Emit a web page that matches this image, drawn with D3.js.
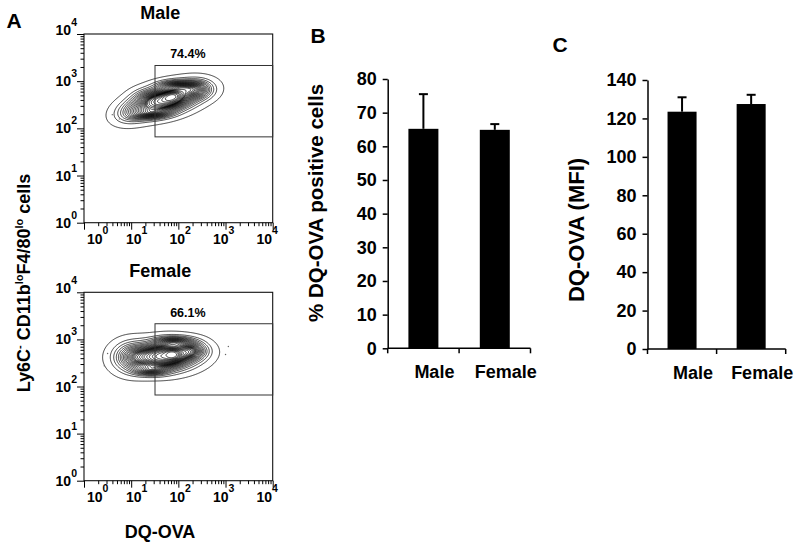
<!DOCTYPE html>
<html><head><meta charset="utf-8">
<script src="https://cdn.jsdelivr.net/npm/d3@7"></script>
<style>
body{margin:0;background:#fff}
svg{display:block;font-family:"Liberation Sans",Arial,sans-serif;font-weight:bold}
</style>
</head><body>
<svg id="c" width="799" height="544"></svg>
<script>
// ---------- DATA ----------
const flowTitles = ["Male", "Female"];
const gatePercents = ["74.4%", "66.1%"];
const decadeTicks = [1, 10, 100, 1000, 10000];
const decadeExponents = ["0", "1", "2", "3", "4"];
const gateXRange = [32, 10000];
const gateYRange = [66, 2150];
// density components: [log10 x, log10 y, sdx, sdy, rho, weight]
const maleComponents = [
  [1.75, 2.60, 0.42, 0.20, 0.45, 1.00],
  [2.40, 2.82, 0.20, 0.12, 0.00, 0.35],
  [1.95, 2.90, 0.25, 0.07, 0.00, 0.30],
  [1.45, 2.30, 0.25, 0.07, 0.20, 0.30],
  [1.85, 2.66, 0.10, 0.06, 0.30, 0.35],
  [1.05, 2.36, 0.25, 0.16, 0.30, 0.25],
  [1.30, 2.66, 0.20, 0.12, 0.00, 0.12]
];
const femaleComponents = [
  [1.70, 2.64, 0.41, 0.19, 0.10, 1.00],
  [2.30, 2.76, 0.20, 0.12, 0.00, 0.35],
  [1.90, 2.95, 0.25, 0.07, 0.00, 0.30],
  [1.40, 2.33, 0.22, 0.07, 0.00, 0.30],
  [1.87, 2.67, 0.09, 0.06, 0.00, 0.35],
  [1.00, 2.62, 0.25, 0.20, 0.00, 0.35]
];
const maleOutliers = [[0.60, 2.29], [0.75, 2.20]];
const femaleOutliers = [[0.43, 2.44], [3.06, 2.85], [3.00, 2.68], [0.50, 2.70]];
const barCategories = ["Male", "Female"];
const pctValues = [65.2, 64.9];
const pctErrors = [10.3, 1.7];
const pctTicks = [0, 10, 20, 30, 40, 50, 60, 70, 80];
const mfiValues = [123.5, 127.5];
const mfiErrors = [7.5, 4.8];
const mfiTicks = [0, 20, 40, 60, 80, 100, 120, 140];

// ---------- DRAW ----------
const svg = d3.select("#c");

function density(comps, lx, ly) {
  let s = 0;
  for (const [mx, my, sx, sy, r, w] of comps) {
    const dx = (lx - mx) / sx, dy = (ly - my) / sy;
    const q = (dx * dx - 2 * r * dx * dy + dy * dy) / (1 - r * r);
    s += w * Math.exp(-0.5 * q);
  }
  return s;
}

function drawFlow(comps, outliers, top, bottom, title, pct) {
  const g = svg.append("g");
  const left = 84, right = 272.7;
  const x = d3.scaleLog().domain([1, 1e4]).range([left, right]);
  const y = d3.scaleLog().domain([1, 1e4]).range([bottom, top]);

  const n = 260;
  const vals = new Float64Array(n * n);
  for (let j = 0; j < n; j++) for (let i = 0; i < n; i++)
    vals[i + j * n] = density(comps, i / n * 4, j / n * 4);
  const sorted = Array.from(vals).sort((a, b) => b - a);
  const total = d3.sum(sorted);
  const fracs = d3.range(0.035, 0.97, 0.035).concat([0.985]);
  const levels = [];
  let cum = 0, k = 0;
  for (let idx = 0; idx < sorted.length && k < fracs.length; idx++) {
    cum += sorted[idx];
    while (k < fracs.length && cum >= fracs[k] * total) { levels.push(sorted[idx]); k++; }
  }
  const contours = d3.contours().size([n, n]).thresholds(levels.sort((a, b) => a - b))(vals);
  const proj = d3.geoTransform({
    point(px, py) { this.stream.point(x(Math.pow(10, px / n * 4)), y(Math.pow(10, py / n * 4))); }
  });
  g.append("g").selectAll("path").data(contours).join("path")
    .attr("d", d3.geoPath(proj)).attr("fill", "none")
    .attr("stroke", "#000").attr("stroke-width", 0.75);
  g.append("g").selectAll("circle").data(outliers).join("circle")
    .attr("cx", d => x(Math.pow(10, d[0]))).attr("cy", d => y(Math.pow(10, d[1])))
    .attr("r", 0.7).attr("fill", "#666");

  g.append("rect").attr("x", left).attr("y", top).attr("width", right - left).attr("height", bottom - top)
    .attr("fill", "none").attr("stroke", "#111").attr("stroke-width", 1.1);

  g.append("rect").attr("x", x(gateXRange[0])).attr("y", y(gateYRange[1]))
    .attr("width", x(gateXRange[1]) - x(gateXRange[0])).attr("height", y(gateYRange[0]) - y(gateYRange[1]))
    .attr("fill", "none").attr("stroke", "#333").attr("stroke-width", 1);
  g.append("text").attr("x", (x(gateXRange[0]) + x(gateXRange[1])) / 2 - 26).attr("y", y(gateYRange[1]) - 7)
    .attr("text-anchor", "middle").attr("font-size", 12.5).text(pct);

  const allTicks = [];
  for (let e = 0; e < 4; e++) for (let m = 1; m < 10; m++) allTicks.push(m * Math.pow(10, e));
  allTicks.push(1e4);
  const isMajor = v => Math.abs(Math.log10(v) - Math.round(Math.log10(v))) < 1e-9;
  const ya = g.append("g").attr("transform", `translate(${left},0)`)
    .call(d3.axisLeft(y).tickValues(allTicks).tickFormat("").tickSizeOuter(0));
  ya.select(".domain").remove();
  ya.selectAll(".tick line").attr("x2", d => isMajor(d) ? -7 : -3.5).attr("stroke-width", 1);
  const xa = g.append("g").attr("transform", `translate(0,${bottom})`)
    .call(d3.axisBottom(x).tickValues(allTicks).tickFormat("").tickSizeOuter(0));
  xa.select(".domain").remove();
  xa.selectAll(".tick line").attr("y2", d => isMajor(d) ? 7 : 3.5).attr("stroke-width", 1);

  decadeTicks.forEach((v, i) => {
    const by = i === 4 ? top + 1 : y(v) + 5;
    const ty = g.append("text").attr("x", left - 7).attr("y", by).attr("text-anchor", "end").attr("font-size", 14);
    ty.append("tspan").text("10");
    ty.append("tspan").attr("dy", -9).attr("font-size", 10.5).text(decadeExponents[i]);
    const sx = Math.max(x(v) - 1.5 - 3.7 * i, left + 3);
    const tx = g.append("text").attr("x", sx).attr("y", bottom + 21).attr("font-size", 14);
    tx.append("tspan").text("10");
    tx.append("tspan").attr("dy", -10).attr("font-size", 10.5).text(decadeExponents[i]);
  });
  g.append("text").attr("x", (left + right) / 2 - 18).attr("y", top - 15)
    .attr("text-anchor", "middle").attr("font-size", 18).text(title);
}

drawFlow(maleComponents, maleOutliers, 34, 222.7, flowTitles[0], gatePercents[0]);
drawFlow(femaleComponents, femaleOutliers, 292.3, 480.7, flowTitles[1], gatePercents[1]);

const yl = svg.append("text").attr("transform", "translate(30,283) rotate(-90)")
  .attr("text-anchor", "middle").attr("font-size", 18);
yl.append("tspan").text("Ly6C");
yl.append("tspan").attr("dy", -7).attr("font-size", 11).text("-");
yl.append("tspan").attr("dy", 7).text(" CD11b");
yl.append("tspan").attr("dy", -7).attr("font-size", 11).text("lo");
yl.append("tspan").attr("dy", 7).text("F4/80");
yl.append("tspan").attr("dy", -7).attr("font-size", 11).text("lo");
yl.append("tspan").attr("dy", 7).text(" cells");
svg.append("text").attr("x", 160).attr("y", 538).attr("text-anchor", "middle").attr("font-size", 18).text("DQ-OVA");
svg.append("text").attr("x", 14).attr("y", 28).attr("text-anchor", "middle").attr("font-size", 21).text("A");

function drawBars(values, errors, ticks, yMax, x0, x1, yTop, yBottom, ylabel, ylabelX, ylabelCenter, ylabelSize, letter, letterPos) {
  const g = svg.append("g");
  const x = d3.scaleBand().domain(barCategories).range([x0, x1]).padding(0);
  const y = d3.scaleLinear().domain([0, yMax]).range([yBottom, yTop]);
  const bw = x.bandwidth() * 0.42;
  barCategories.forEach((c, i) => {
    const cx = x(c) + x.bandwidth() / 2;
    g.append("rect").attr("x", cx - bw / 2).attr("y", y(values[i]))
      .attr("width", bw).attr("height", y(0) - y(values[i])).attr("fill", "#000");
    g.append("line").attr("x1", cx).attr("x2", cx).attr("y1", y(values[i])).attr("y2", y(values[i] + errors[i]))
      .attr("stroke", "#000").attr("stroke-width", 2);
    g.append("line").attr("x1", cx - 4.5).attr("x2", cx + 4.5).attr("y1", y(values[i] + errors[i])).attr("y2", y(values[i] + errors[i]))
      .attr("stroke", "#000").attr("stroke-width", 2);
    g.append("text").attr("x", cx + 11).attr("y", yBottom + 30).attr("text-anchor", "middle")
      .attr("font-size", 18).text(c);
  });
  const ya = g.append("g").attr("transform", `translate(${x0},0)`)
    .call(d3.axisLeft(y).tickValues(ticks).tickSizeInner(5).tickSizeOuter(0).tickPadding(6));
  ya.select(".domain").attr("stroke-width", 1.5);
  ya.selectAll(".tick line").attr("stroke-width", 1.5);
  ya.selectAll(".tick text").attr("font-size", 18).attr("font-family", "Liberation Sans, Arial, sans-serif").attr("font-weight", "bold");
  const xa = g.append("g").attr("transform", `translate(0,${yBottom})`);
  xa.append("line").attr("x1", x0).attr("x2", x1).attr("stroke", "#000").attr("stroke-width", 1.5);
  const bounds = barCategories.map(c => x(c)).concat([x1]);
  xa.selectAll("line.b").data(bounds).join("line").attr("class", "b")
    .attr("x1", d => d).attr("x2", d => d).attr("y1", 0).attr("y2", 5).attr("stroke", "#000").attr("stroke-width", 1.5);
  g.append("text").attr("transform", `translate(${ylabelX},${ylabelCenter}) rotate(-90)`)
    .attr("text-anchor", "middle").attr("font-size", ylabelSize).text(ylabel);
  g.append("text").attr("x", letterPos[0]).attr("y", letterPos[1]).attr("text-anchor", "middle").attr("font-size", 21).text(letter);
}

drawBars(pctValues, pctErrors, pctTicks, 80, 387.7, 530.5, 79, 348.3, "% DQ-OVA positive cells", 323, 203, 20.5, "B", [318, 43]);
drawBars(mfiValues, mfiErrors, mfiTicks, 140, 647.5, 785.7, 80, 349, "DQ-OVA (MFI)", 584, 230, 22, "C", [560, 52]);
</script>
</body></html>
